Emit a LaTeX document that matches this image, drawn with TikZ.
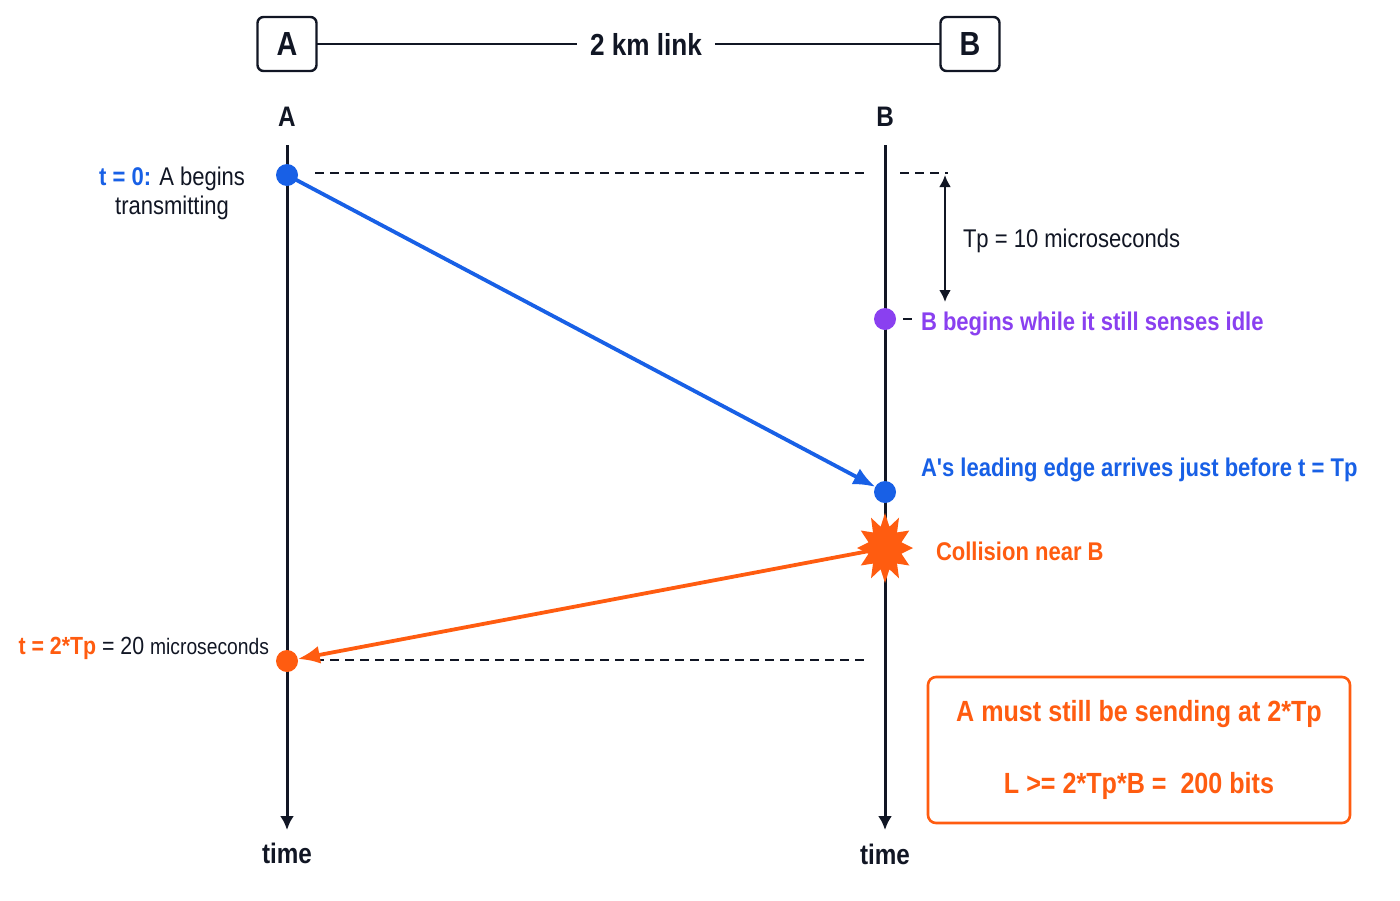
\documentclass[tikz,border=0pt]{standalone}
\usepackage{fontspec}
\setmainfont[FakeStretch=0.86]{Liberation Sans}
\newfontfamily\plainfont[FakeStretch=0.86]{Liberation Sans}
\usetikzlibrary{arrows.meta}
\definecolor{ink}{RGB}{17,22,36}
\definecolor{tblue}{RGB}{24,96,230}
\definecolor{tpurple}{RGB}{138,64,240}
\definecolor{torange}{RGB}{255,92,16}
\begin{document}
\begin{tikzpicture}[x=0.5pt,y=-0.5pt,
  every node/.style={inner sep=0pt, outer sep=0pt},
  station/.style={draw=ink, line width=1.2pt, rounded corners=3pt, minimum width=29.5pt, minimum height=27pt, font=\bfseries\fontsize{16.7}{19}\selectfont, text=ink},
  axislabel/.style={font=\bfseries\fontsize{14.1}{16}\selectfont, text=ink},
  timeline/.style={draw=ink, line width=1.5pt, -{Latex[length=7pt,width=7pt]}},
  guide/.style={draw=ink, line width=1pt, dash pattern=on 4.5pt off 3pt},
  dot/.style={circle, minimum size=11pt},
  lbl/.style={font=\fontsize{12.8}{14.5}\selectfont, text=ink},
  blbl/.style={font=\bfseries\fontsize{12.8}{14.5}\selectfont},
  signal/.style={line width=1.9pt, -{Latex[length=11pt,width=9pt]}},
]
\fill[white] (0,0) rectangle (1400,900);
\useasboundingbox (0,0) rectangle (1400,900);

% top: stations and link
\node[station] (boxA) at (287,44) {A};
\node[station] (boxB) at (970,44) {B};
\node[font=\bfseries\fontsize{15.2}{17}\selectfont, text=ink, inner xsep=6.5pt] (link) at (646,44) {2 km link};
\draw[ink, line width=1.2pt] (boxA.east) -- (link.west |- boxA.east);
\draw[ink, line width=1.2pt] (link.east |- boxB.west) -- (boxB.west);

% axis labels
\node[axislabel] (labA) at (287,117) {A};
\node[axislabel] (labB) at (885,117) {B};

% timelines
\coordinate (aTop) at (287,145);
\coordinate (aEnd) at (287,830);
\coordinate (bTop) at (885,145);
\coordinate (bEnd) at (885,830);
\draw[timeline] (aTop) -- (aEnd);
\draw[timeline] (bTop) -- (bEnd);
\node[axislabel] (timeA) at (287,853) {time};
\node[axislabel] (timeB) at (885,854) {time};

% dashed guides
\coordinate (g1s) at (315,173);
\coordinate (g1e) at (870,173);
\coordinate (g2s) at (900,173);
\coordinate (g2e) at (948,173);
\coordinate (g3s) at (315,660);
\coordinate (g3e) at (870,660);
\draw[guide] (g1s) -- (g1e);
\draw[guide] (g2s) -- (g2e);
\draw[guide] (g3s) -- (g3e);

% Tp dimension
\coordinate (tpTop) at (945,175);
\coordinate (tpBot) at (945,302);
\draw[ink, line width=1.2pt, {Latex[length=6pt,width=6pt]}-{Latex[length=6pt,width=6pt]}] (tpTop) -- (tpBot);
\node[lbl, anchor=west] (tp) at (963,241) {Tp = 10 microseconds};

% events
\node[dot, fill=tblue] (d0) at (287,175) {};
\node[dot, fill=tpurple] (d1) at (885,319) {};
\node[dot, fill=tblue] (d2) at (885,492) {};
\node[dot, fill=torange] (d3) at (287,661) {};
\coordinate (star) at (885,548);

\draw[signal, tblue] (d0.center) -- (d2);
\draw[signal, torange] (star) -- (d3);

% starburst
\fill[torange] plot[samples at={0,...,23}, variable=\k]
  ({885+(28-11*mod(\k,2))*sin(15*\k)},{548-(35-13*mod(\k,2))*cos(15*\k)}) -- cycle;

% B begins
\coordinate (tk1) at (903,319);
\coordinate (tk2) at (912,319);
\draw[ink, line width=1pt] (tk1) -- (tk2);
\node[blbl, text=tpurple, anchor=west] (bbeg) at (921,324) {B begins while it still senses idle};
\node[blbl, text=tblue, anchor=west] (lead) at (921,470) {\plainfont\bfseries A's leading edge arrives just before t = Tp};
\node[blbl, text=torange, anchor=west] (coll) at (936,551) {Collision near B};

% left labels
\node[lbl, anchor=east, align=center] (t0) at (245,193) {\textcolor{tblue}{\bfseries t = 0:} A begins\\transmitting};
\node[lbl, anchor=east, font=\fontsize{12.4}{14}\selectfont] (t2) at (269,648) {\textcolor{torange}{\bfseries t = 2*Tp} = 20 {\fontsize{11.2}{13}\selectfont microseconds}};

% conclusion box
\node[draw=torange, line width=1.3pt, rounded corners=4pt, minimum width=211pt, minimum height=73pt, align=center, text=torange, font=\bfseries\fontsize{14.6}{17}\selectfont] (concl) at (1139,750) {A must still be sending at 2*Tp\\[19pt]L >= 2*Tp*B = \ 200 bits};
\end{tikzpicture}
\end{document}
